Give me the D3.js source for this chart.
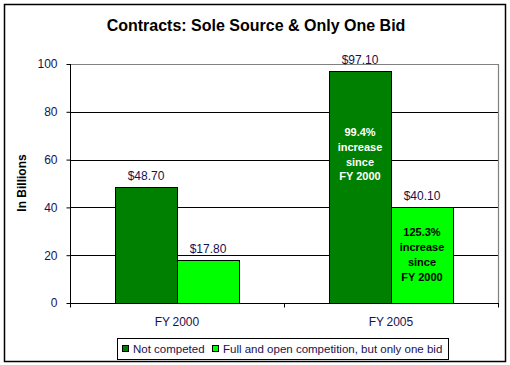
<!DOCTYPE html>
<html>
<head>
<meta charset="utf-8">
<script src="https://cdn.jsdelivr.net/npm/d3@7"></script>
<style>
  body { margin: 0; background: #fff; }
  svg { font-family: Arial, "Liberation Sans", sans-serif; }
</style>
</head>
<body>
<svg id="canvas" width="510" height="365"></svg>
<script>
let categories = ['FY 2000', 'FY 2005']
let seriesNames = ['Not competed', 'Full and open competition, but only one bid']
let notCompeted = [48.70, 97.10]
let oneBid = [17.80, 40.10]
let yTicks = [0, 20, 40, 60, 80, 100]
let increaseNotes = ['99.4%', '125.3%']

let colors = ['#008000', '#00ff00']
let textColor = '#1a1050'

let svg = d3.select('#canvas')

// outer chart border
svg.append('rect')
    .attr('x', 4.5).attr('y', 4.5)
    .attr('width', 501).attr('height', 357)
    .attr('fill', '#fff').attr('stroke', '#000').attr('stroke-width', 1.5)

let plot = {left: 70, top: 64, right: 498, bottom: 303}

let x = d3.scaleBand()
    .domain(categories)
    .range([plot.left, plot.right])
    .paddingInner(0)
    .paddingOuter(0)

let xInner = d3.scaleBand()
    .domain([0, 1])
    .range([0, x.bandwidth()])
    .paddingOuter(0.726)
    .paddingInner(0)

let y = d3.scaleLinear()
    .domain([0, 100])
    .range([plot.bottom, plot.top])

// title
svg.append('text')
    .attr('x', 256).attr('y', 31)
    .attr('text-anchor', 'middle')
    .attr('font-size', 16).attr('font-weight', 'bold')
    .text('Contracts: Sole Source & Only One Bid')

// gridlines
svg.append('g').selectAll('line')
    .data(yTicks.filter(d => d > 0 && d < 100))
    .enter().append('line')
    .attr('x1', plot.left).attr('x2', plot.right)
    .attr('y1', d => Math.round(y(d)) + 0.5).attr('y2', d => Math.round(y(d)) + 0.5)
    .attr('stroke', '#000')

// plot area top/right border
svg.append('path')
    .attr('d', `M${plot.left},${plot.top + 0.5}H${plot.right + 0.5}V${plot.bottom}`)
    .attr('fill', 'none').attr('stroke', '#808080').attr('stroke-width', 1.2)

// bars
let data = categories.map((c, i) => [notCompeted[i], oneBid[i]])

let groups = svg.append('g').selectAll('g')
    .data(data)
    .enter().append('g')
    .attr('transform', (d, i) => `translate(${x(categories[i])},0)`)

groups.selectAll('rect')
    .data(d => d)
    .enter().append('rect')
    .attr('x', (d, j) => Math.round(xInner(j)) + 0.5)
    .attr('y', d => Math.round(y(d)) + 0.5)
    .attr('width', Math.round(xInner.bandwidth()))
    .attr('height', d => plot.bottom - Math.round(y(d)))
    .attr('fill', (d, j) => colors[j])
    .attr('stroke', '#000')

// value labels
groups.selectAll('text.val')
    .data(d => d)
    .enter().append('text')
    .attr('class', 'val')
    .attr('x', (d, j) => xInner(j) + xInner.bandwidth() / 2)
    .attr('y', d => y(d) - 7)
    .attr('text-anchor', 'middle')
    .attr('font-size', 12)
    .attr('fill', textColor)
    .text(d => '$' + d.toFixed(2))

// increase notes in FY 2005 bars
let notes = svg.append('g')
    .attr('transform', `translate(${x(categories[1])},0)`)
let noteTops = [y(notCompeted[1]) + 65, y(oneBid[1]) + 29]
increaseNotes.forEach((pct, j) => {
    let lines = [pct, 'increase', 'since', 'FY 2000']
    notes.append('g').selectAll('text')
        .data(lines)
        .enter().append('text')
        .attr('x', xInner(j) + xInner.bandwidth() / 2)
        .attr('y', (d, k) => noteTops[j] + k * 14.8)
        .attr('text-anchor', 'middle')
        .attr('font-size', 11).attr('font-weight', 'bold')
        .attr('fill', j === 0 ? '#fff' : '#000')
        .text(d => d)
})

// y axis
let yAxis = svg.append('g')
    .attr('transform', `translate(${plot.left + 0.5},0)`)
    .call(d3.axisLeft(y).tickValues(yTicks).tickSize(4).tickPadding(9))
yAxis.select('.domain').attr('stroke', '#000').attr('d', `M0,${plot.top}V${plot.bottom + 0.5}`)
yAxis.selectAll('.tick line').attr('stroke', '#000')
yAxis.selectAll('.tick text')
    .attr('font-family', 'Arial, "Liberation Sans", sans-serif')
    .attr('font-size', 12).attr('fill', textColor)

// x axis
let xAxis = svg.append('g')
    .attr('transform', `translate(0,${plot.bottom + 0.5})`)
xAxis.append('line')
    .attr('x1', plot.left).attr('x2', plot.right + 1)
    .attr('stroke', '#000')
xAxis.selectAll('line.tick')
    .data([0, 1, 2])
    .enter().append('line')
    .attr('class', 'tick')
    .attr('x1', i => Math.round(plot.left + i * x.step()) + 0.5)
    .attr('x2', i => Math.round(plot.left + i * x.step()) + 0.5)
    .attr('y1', 0).attr('y2', 4)
    .attr('stroke', '#000')
xAxis.selectAll('text')
    .data(categories)
    .enter().append('text')
    .attr('x', d => x(d) + x.bandwidth() / 2)
    .attr('y', 22)
    .attr('text-anchor', 'middle')
    .attr('font-size', 12)
    .attr('fill', textColor)
    .text(d => d.replace(' ', '\u2009'))

// y axis title
svg.append('text')
    .attr('transform', 'translate(26,183) rotate(-90)')
    .attr('text-anchor', 'middle')
    .attr('font-size', 12).attr('font-weight', 'bold')
    .text('In Billions')

// legend
let legend = svg.append('g')
legend.append('rect')
    .attr('x', 117.5).attr('y', 338.5)
    .attr('width', 331).attr('height', 21)
    .attr('fill', '#fff').attr('stroke', '#000')
let legendX = [122, 212]
seriesNames.forEach((name, i) => {
    legend.append('rect')
        .attr('x', legendX[i] + 0.5).attr('y', 345.5)
        .attr('width', 6).attr('height', 6)
        .attr('fill', colors[i]).attr('stroke', '#000')
    legend.append('text')
        .attr('x', legendX[i] + 11).attr('y', 353)
        .attr('font-size', 11.5)
        .attr('fill', textColor)
        .text(name)
})
</script>
</body>
</html>
